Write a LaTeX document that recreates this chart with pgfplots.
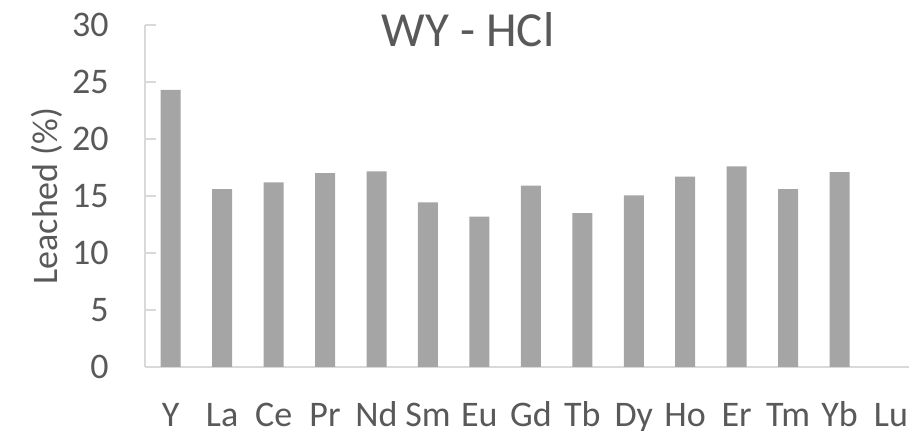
\documentclass[border=0pt]{standalone}
\usepackage{fontspec}
\setmainfont{Carlito}
\usepackage{pgfplots}
\pgfplotsset{compat=1.18}
\definecolor{txt}{HTML}{595959}
\definecolor{axl}{HTML}{D9D9D9}
\definecolor{bar}{HTML}{A5A5A5}
\begin{document}
\begin{tikzpicture}
\begin{axis}[
  scale only axis,
  width=382pt, height=171pt,
  at={(0,0)}, anchor=south west,
  xmin=-0.5, xmax=14.35,
  ymin=0, ymax=30,
  ytick={0,5,...,30},
  xtick={0,...,14},
  xticklabels={Y,La,Ce,Pr,Nd,Sm,Eu,Gd,Tb,Dy,Ho,Er,Tm,Yb,Lu},
  axis x line=bottom, axis y line=left,
  axis line style={-, draw=axl, line width=0.8pt},
  x axis line style={-},
  y axis line style={-},
  tick align=inside,
  major tick length=5.5pt,
  xtick style={draw=none},
  ytick style={draw=axl, line width=0.8pt},
  /pgf/number format/assume math mode=true,
  tick label style={font=\fontsize{18}{20}\selectfont, text=txt},
  yticklabel style={anchor=east, inner sep=0pt, xshift=-18pt},
  xticklabel style={anchor=base, inner sep=0pt, yshift=-24.5pt},
  ylabel={Leached (\%)},
  ylabel style={at={([xshift=-49pt]axis description cs:0,0.5)}, anchor=center, font=\fontsize{18}{20}\selectfont, text=txt},
  clip=false,
  ybar, bar width=10pt,
]
\addplot[fill=bar, draw=none] coordinates {
(0,24.3) (1,15.6) (2,16.2) (3,17.0) (4,17.15) (5,14.45) (6,13.2) (7,15.9)
(8,13.5) (9,15.05) (10,16.7) (11,17.6) (12,15.6) (13,17.1)
};
\node[anchor=base, inner sep=0pt, font=\fontsize{24.5}{26}\selectfont, text=txt] at ([yshift=-11pt]axis description cs:0.4228,1) {WY - HCl};
\end{axis}
\pgfresetboundingbox
\path[use as bounding box] (-72.5pt,-32pt) rectangle (382pt,183.5pt);
\end{tikzpicture}
\end{document}
